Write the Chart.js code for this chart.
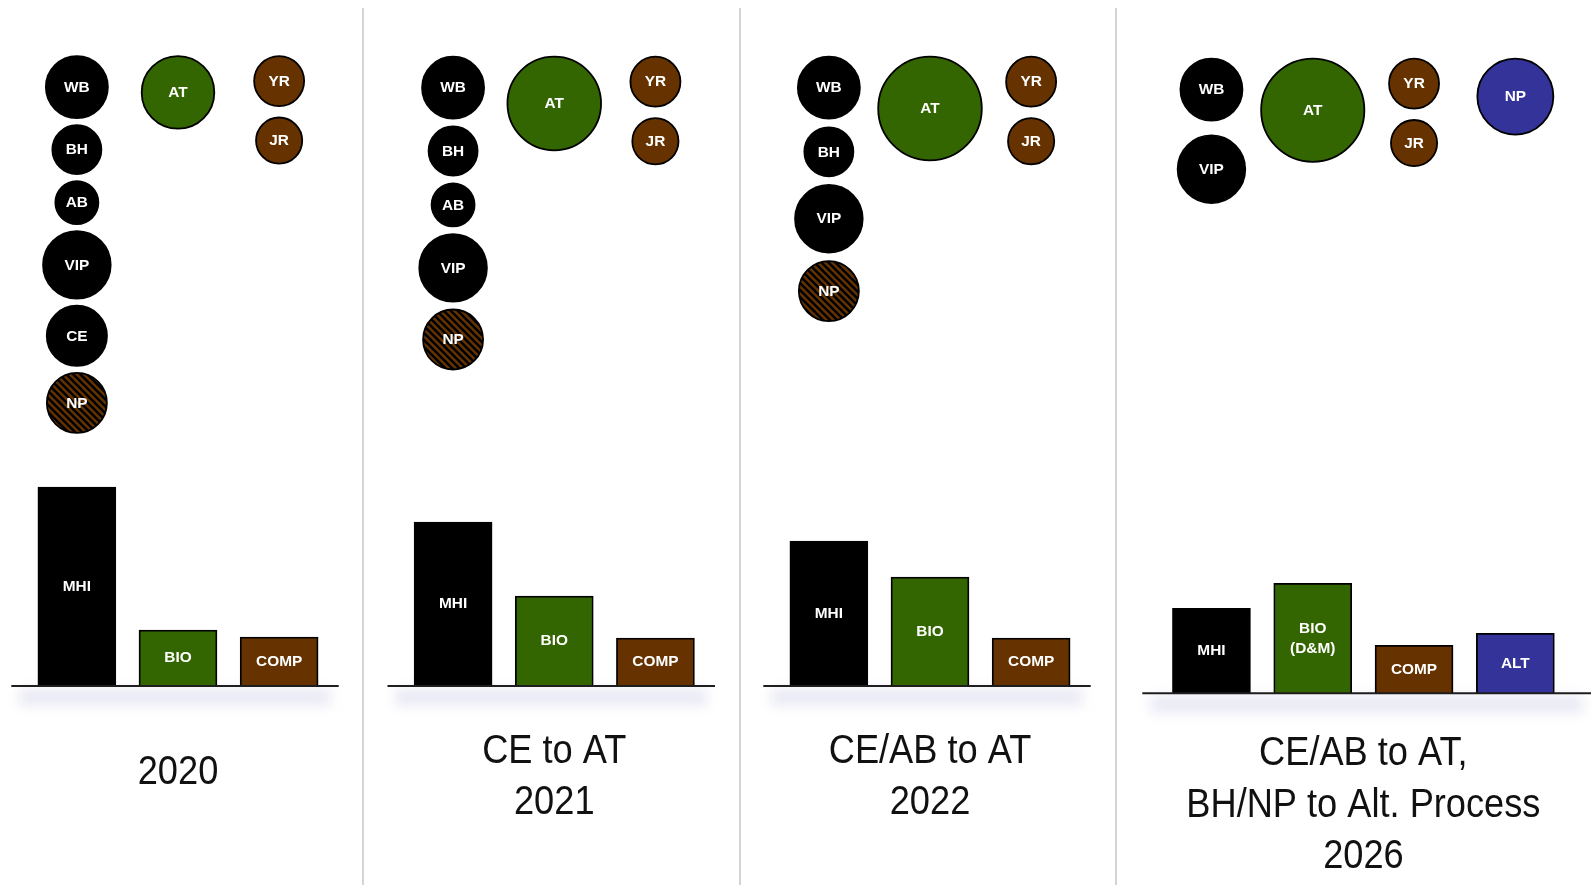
<!DOCTYPE html>
<html>
<head>
<meta charset="utf-8">
<title>Treatment capacity by scenario</title>
<script src="https://cdn.jsdelivr.net/npm/chart.js@4/dist/chart.umd.min.js"></script>
<style>
  html, body { margin: 0; padding: 0; background: #ffffff; }
  #stage { position: relative; width: 1591px; height: 885px; overflow: hidden; background: #fff; }
  #stage canvas { position: absolute; top: 0; }
  .rule { position: absolute; top: 8px; bottom: 0; width: 2px; background: #d4d4d4; }
</style>
</head>
<body>
<div id="stage">
  <canvas id="panel0" width="362" height="885" style="left:0px"></canvas>
  <div class="rule" style="left:362px"></div>
  <canvas id="panel1" width="375" height="885" style="left:364px"></canvas>
  <div class="rule" style="left:739px"></div>
  <canvas id="panel2" width="374" height="885" style="left:741px"></canvas>
  <div class="rule" style="left:1115px"></div>
  <canvas id="panel3" width="474" height="885" style="left:1117px"></canvas>
</div>
<script>
// ---- Scenario data -------------------------------------------------------
const scenarioTitles = [
  ['2020'],
  ['CE to AT', '2021'],
  ['CE/AB to AT', '2022'],
  ['CE/AB to AT,', 'BH/NP to Alt. Process', '2026']
];

// process trains (bar categories) and the text written on each bar
const processCategories = ['MHI', 'BIO', 'COMP', 'ALT'];
const barTexts = [
  ['MHI', 'BIO', 'COMP'],
  ['MHI', 'BIO', 'COMP'],
  ['MHI', 'BIO', 'COMP'],
  ['MHI', 'BIO\n(D&M)', 'COMP', 'ALT']
];

// load handled by each process train, per scenario
const mhiLoad  = [199, 164, 145, 85];
const bioLoad  = [56, 90, 109, 110];
const compLoad = [49, 48, 48, 48];
const altLoad  = [null, null, null, 60];

// facilities feeding each process train, per scenario
const facilityNames = [
  ['WB', 'BH', 'AB', 'VIP', 'CE', 'NP', 'AT', 'YR', 'JR'],
  ['WB', 'BH', 'AB', 'VIP', 'NP', 'AT', 'YR', 'JR'],
  ['WB', 'BH', 'VIP', 'NP', 'AT', 'YR', 'JR'],
  ['WB', 'VIP', 'AT', 'YR', 'JR', 'NP']
];
const facilityGroups = [
  ['MHI', 'MHI', 'MHI', 'MHI', 'MHI', 'MHI', 'BIO', 'COMP', 'COMP'],
  ['MHI', 'MHI', 'MHI', 'MHI', 'MHI', 'BIO', 'COMP', 'COMP'],
  ['MHI', 'MHI', 'MHI', 'MHI', 'BIO', 'COMP', 'COMP'],
  ['MHI', 'MHI', 'BIO', 'COMP', 'COMP', 'ALT']
];
// circle size (radius) of each facility
const facilitySizes = [
  [31, 24.5, 21.5, 33.8, 30.1, 30, 36.3, 25, 23.1],
  [31, 24.5, 21.5, 33.8, 30, 46.8, 25, 23.1],
  [31, 24.5, 33.8, 30, 51.8, 25, 23.1],
  [31, 33.8, 51.6, 25, 23.1, 38]
];
// facilities shown as "in transition" (hatched)
const transitionFacilities = [['NP'], ['NP'], ['NP'], []];

// ---- Layout & style ------------------------------------------------------
const groupColors = { MHI: '#000000', BIO: '#336600', COMP: '#663300', ALT: '#333399' };
const panelLeft   = [0, 364, 741, 1117];
const plotSpan    = [[26.3, 329.7], [402.5, 706], [778.3, 1081.7], [1160.8, 1566]];
const baselineY   = [686, 686, 686, 693.3];
const circleTop   = [55.2, 55.8, 55.8, 57.7];
const mhiStackGap = [5.2, 6, 6.8, 13];
const otherStackGap = 9.6;
const titleFirstLine = [84, 62.5, 62.5, 57.7];   // cap-centre of first title line below the baseline
const titlePitch = 51.5;
const titleSize = 40, titleSqueeze = 0.905;
const baseExtend  = [[15, 9], [15, 9], [15, 9], [18.5, 'edge']];
const labelFont = 'bold 15.4px "Liberation Sans", Arial, Helvetica, sans-serif';
const titleFont = titleSize + 'px "Liberation Sans", Arial, Helvetica, sans-serif';

function hatchPattern(ctx) {
  const s = 7;
  const tile = document.createElement('canvas');
  tile.width = s; tile.height = s;
  const g = tile.getContext('2d');
  g.fillStyle = '#663300';
  g.fillRect(0, 0, s, s);
  g.strokeStyle = '#000000';
  g.lineWidth = 2.6;
  g.beginPath();
  g.moveTo(0, 0); g.lineTo(s, s);
  g.moveTo(-s / 2, s / 2); g.lineTo(s / 2, s * 1.5);
  g.moveTo(s / 2, -s / 2); g.lineTo(s * 1.5, s / 2);
  g.stroke();
  return ctx.createPattern(tile, 'repeat');
}

// stack the circles of each column from the top, one under another
function stackCircles(p) {
  const cursor = {};
  return facilityNames[p].map((name, i) => {
    const grp = facilityGroups[p][i];
    const r = facilitySizes[p][i];
    const gap = grp === 'MHI' ? mhiStackGap[p] : otherStackGap;
    const top = cursor[grp] === undefined ? circleTop[p] : cursor[grp] + gap;
    cursor[grp] = top + 2 * r + 1.8;
    return { x: grp, y: top + r + 0.9, r: r, name: name };
  });
}

function baseRange(chart, ext) {
  const a = chart.chartArea;
  return [a.left - ext[0], ext[1] === 'edge' ? chart.width : a.right + ext[1]];
}

const decorPlugin = {
  id: 'decor',
  beforeDatasetsDraw(chart, args, opts) {
    const { ctx, chartArea } = chart;
    const [x0, x1] = baseRange(chart, opts.extend);
    ctx.save();
    ctx.filter = 'blur(6px)';
    ctx.fillStyle = 'rgba(234, 234, 245, 1)';
    ctx.fillRect(x0 + 8, chartArea.bottom + 2, x1 - x0 - 16, 18);
    ctx.restore();
  },
  afterDatasetsDraw(chart, args, opts) {
    const { ctx, chartArea } = chart;
    const [x0, x1] = baseRange(chart, opts.extend);
    ctx.save();
    ctx.strokeStyle = '#1e1e1e';
    ctx.lineWidth = 2;
    ctx.beginPath();
    ctx.moveTo(x0, chartArea.bottom);
    ctx.lineTo(x1, chartArea.bottom);
    ctx.stroke();

    ctx.fillStyle = '#ffffff';
    ctx.font = labelFont;
    ctx.textAlign = 'center';
    ctx.textBaseline = 'middle';
    // bar captions
    chart.getDatasetMeta(0).data.forEach((bar, i) => {
      const lines = String(opts.barText[i]).split('\n');
      const cy = (bar.y + bar.base) / 2;
      lines.forEach((ln, k) => {
        ctx.fillText(ln, bar.x, cy + (k - (lines.length - 1) / 2) * 20);
      });
    });
    // circle captions
    const pts = chart.data.datasets[1].data;
    chart.getDatasetMeta(1).data.forEach((el, i) => {
      ctx.fillText(pts[i].name, el.x, el.y + 0.5);
    });

    // scenario heading, centred under the bars (condensed lettering)
    ctx.fillStyle = '#111111';
    ctx.font = titleFont;
    ctx.textBaseline = 'alphabetic';
    const cx = (chartArea.left + chartArea.right) / 2;
    opts.title.forEach((ln, k) => {
      const y = chartArea.bottom + opts.titleOffset + k * titlePitch + 0.358 * titleSize;
      ctx.save();
      ctx.translate(cx, y);
      ctx.scale(titleSqueeze, 1);
      ctx.fillText(ln, 0, 0);
      ctx.restore();
    });
    ctx.restore();
  }
};

const loads = [mhiLoad, bioLoad, compLoad, altLoad];

for (let p = 0; p < 4; p++) {
  const canvas = document.getElementById('panel' + p);
  const ctx = canvas.getContext('2d');
  const hatch = hatchPattern(ctx);
  const nBars = barTexts[p].length;
  const cats = processCategories.slice(0, nBars);
  const values = cats.map((c, i) => loads[i][p]);
  const circles = stackCircles(p);
  const circleFill = circles.map(c =>
    transitionFacilities[p].includes(c.name) ? hatch : groupColors[c.x]);

  const padding = {
    left: plotSpan[p][0] - panelLeft[p],
    right: panelLeft[p] + canvas.width - plotSpan[p][1],
    top: 0,
    bottom: canvas.height - baselineY[p]
  };

  new Chart(ctx, {
    type: 'bar',
    data: {
      labels: cats,
      datasets: [
        {
          type: 'bar',
          label: 'Load',
          data: values,
          backgroundColor: cats.map(c => groupColors[c]),
          borderColor: '#000000',
          borderWidth: 1.8,
          barThickness: 78,
          xAxisID: 'x',
          yAxisID: 'y'
        },
        {
          type: 'bubble',
          label: 'Facilities',
          data: circles,
          backgroundColor: circleFill,
          borderColor: '#000000',
          borderWidth: 1.8,
          hoverBorderWidth: 1.8,
          xAxisID: 'x',
          yAxisID: 'yb',
          clip: false
        }
      ]
    },
    options: {
      responsive: false,
      animation: false,
      events: [],
      layout: { padding: padding, autoPadding: false },
      scales: {
        x: { type: 'category', display: false, offset: true },
        y: { type: 'linear', display: false, min: 0, max: baselineY[p] },
        yb: { type: 'linear', display: false, min: 0, max: baselineY[p], reverse: true }
      },
      plugins: {
        legend: { display: false },
        tooltip: { enabled: false },
        title: { display: false },
        decor: {
          extend: baseExtend[p],
          barText: barTexts[p],
          title: scenarioTitles[p],
          titleOffset: titleFirstLine[p]
        }
      }
    },
    plugins: [decorPlugin]
  });
}
</script>
</body>
</html>
